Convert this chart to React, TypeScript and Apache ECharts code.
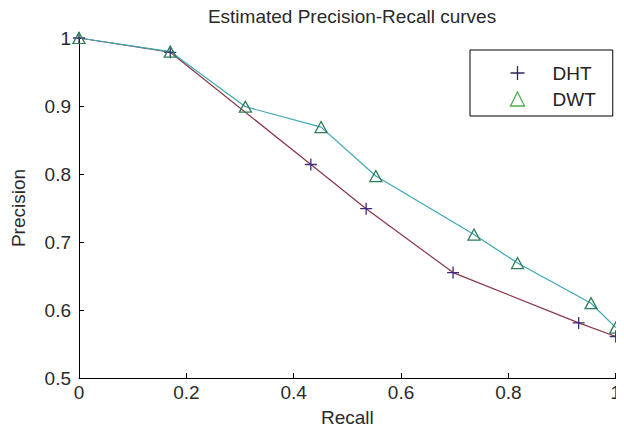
import React, { useEffect, useRef } from "react";
import * as echarts from "echarts";

const titleText = "Estimated Precision-Recall curves";
const xName = "Recall";
const yName = "Precision";
const seriesNames = ["DHT", "DWT"];

const dhtRecall = [0, 0.17, 0.432, 0.535, 0.697, 0.931, 1.0];
const dhtPrecision = [1.0, 0.979, 0.814, 0.749, 0.655, 0.581, 0.561];

const dwtRecall = [0, 0.17, 0.31, 0.451, 0.553, 0.736, 0.817, 0.954, 1.0];
const dwtPrecision = [1.0, 0.98, 0.899, 0.869, 0.797, 0.711, 0.669, 0.61, 0.574];

const plusPath = "path://M0,6L12,6M6,0L6,12";
const FONT = "'Liberation Sans', Arial, sans-serif";

export default function App() {
  const ref = useRef<HTMLDivElement>(null);

  useEffect(() => {
    if (!ref.current) return;
    const chart = echarts.init(ref.current, null, { renderer: "svg" });
    const dht = dhtRecall.map((r, i) => [r, dhtPrecision[i]]);
    const dwt = dwtRecall.map((r, i) => [r, dwtPrecision[i]]);
    chart.setOption({
      animation: false,
      backgroundColor: "#ffffff",
      textStyle: { fontFamily: FONT },
      title: {
        text: titleText,
        left: 347,
        textAlign: "center",
        top: 2,
        textStyle: { fontFamily: FONT, fontSize: 19, fontWeight: "normal", color: "#2a2a2a" },
      },
      grid: { left: 79, right: 7, top: 38, bottom: 56, containLabel: false },
      legend: {
        left: 470,
        top: 50,
        orient: "vertical",
        borderColor: "#000",
        borderWidth: 1,
        borderRadius: 0,
        padding: [13, 17, 7, 38],
        itemWidth: 14,
        itemHeight: 14,
        itemGap: 6,
        textStyle: { fontFamily: FONT, fontSize: 19, lineHeight: 20, color: "#222", padding: [0, 0, 0, 23] },
        data: [
          { name: seriesNames[0], icon: plusPath, itemStyle: { color: "none", borderColor: "#2a2a55", borderWidth: 1.3 } },
          { name: seriesNames[1], icon: "triangle", itemStyle: { color: "none", borderColor: "#4caf50", borderWidth: 1.3 } },
        ],
      },
      xAxis: {
        type: "value",
        min: 0,
        max: 1,
        interval: 0.2,
        name: xName,
        nameLocation: "middle",
        nameGap: 30,
        nameTextStyle: { fontFamily: FONT, fontSize: 19, color: "#2a2a2a" },
        axisLine: { show: true, lineStyle: { color: "#000", width: 1 } },
        axisTick: { show: true, inside: true, length: 5, lineStyle: { color: "#000" } },
        axisLabel: { fontFamily: FONT, fontSize: 19, color: "#2a2a2a", margin: 5 },
        splitLine: { show: false },
      },
      yAxis: {
        type: "value",
        min: 0.5,
        max: 1,
        interval: 0.1,
        name: yName,
        nameLocation: "middle",
        nameGap: 51,
        nameTextStyle: { fontFamily: FONT, fontSize: 19, color: "#2a2a2a" },
        axisLine: { show: true, lineStyle: { color: "#000", width: 1 } },
        axisTick: { show: true, inside: true, length: 5, lineStyle: { color: "#000" } },
        axisLabel: { fontFamily: FONT, fontSize: 19, color: "#2a2a2a", margin: 8 },
        splitLine: { show: false },
      },
      series: [
        {
          name: seriesNames[0],
          type: "line",
          data: dht,
          symbol: plusPath,
          symbolSize: 12,
          showAllSymbol: true,
          lineStyle: { color: "#8a3548", width: 1.2 },
          itemStyle: { color: "none", borderColor: "#3d2a78", borderWidth: 1.3 },
          emphasis: { disabled: true },
        },
        {
          name: seriesNames[1],
          type: "line",
          data: dwt,
          symbol: "triangle",
          symbolSize: [12, 11],
          showAllSymbol: true,
          lineStyle: { color: "#3aa8b4", width: 1.2 },
          itemStyle: { color: "none", borderColor: "#2e7d55", borderWidth: 1.3 },
          emphasis: { disabled: true },
        },
      ],
    });
    return () => chart.dispose();
  }, []);

  return <div ref={ref} style={{ width: 624, height: 434, margin: -8 }} />;
}
